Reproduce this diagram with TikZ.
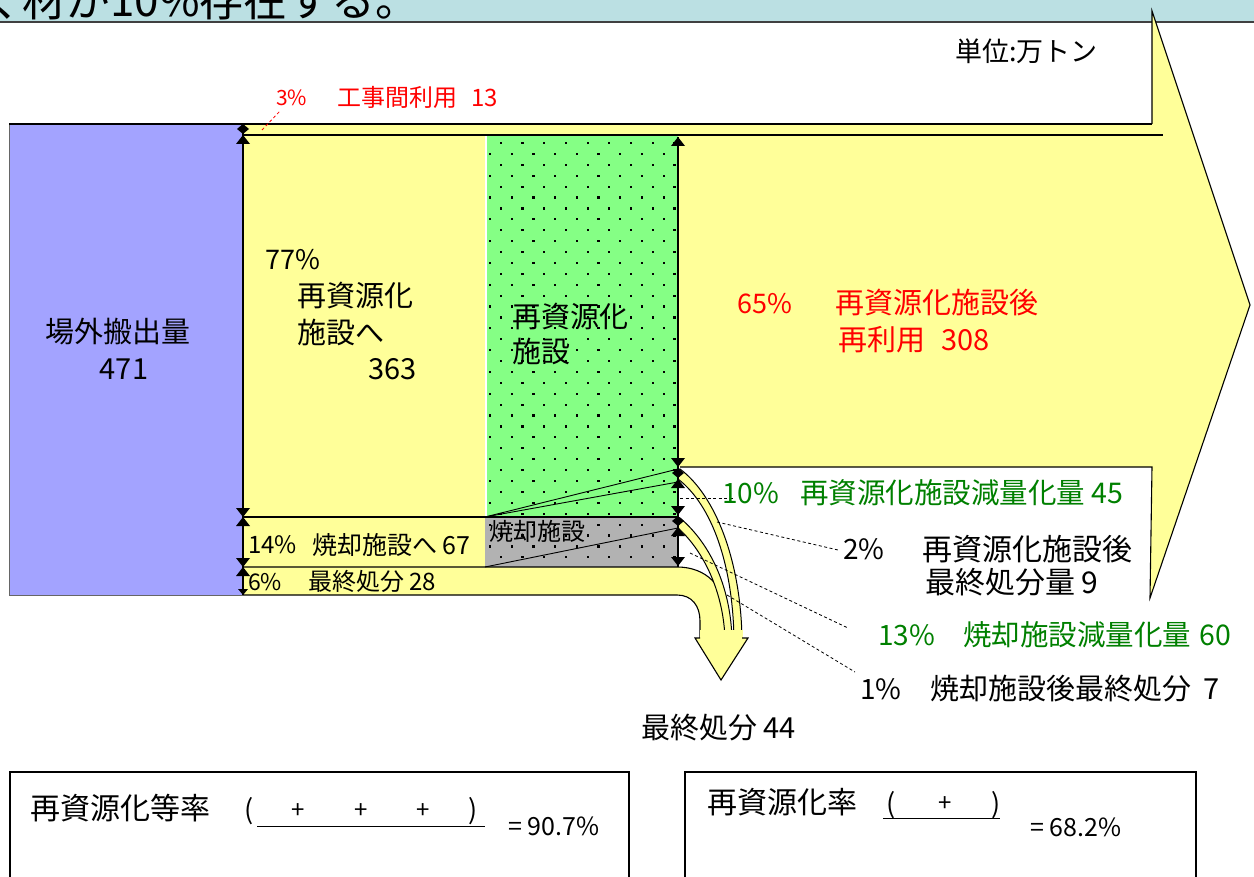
\documentclass[tikz,border=0pt]{standalone}
\usepackage{fontspec}
\setmainfont{Noto Sans CJK JP}
\definecolor{titlebg}{RGB}{187,224,227}
\definecolor{boxblue}{RGB}{163,163,255}
\definecolor{yel}{RGB}{255,255,153}
\definecolor{grn}{RGB}{133,255,133}
\definecolor{gry}{RGB}{178,178,178}
\definecolor{redt}{RGB}{255,0,0}
\definecolor{grnt}{RGB}{0,128,0}
\newcommand\myfs[1]{\fontsize{#1}{#1}\selectfont}
\tikzset{
  lbl/.style={inner sep=0pt, anchor=base west},
  lblc/.style={inner sep=0pt, anchor=base},
  outl/.style={draw=black, line width=1.1pt},
  leader/.style={line width=0.8pt, dash pattern=on 3pt off 2.5pt},
  uptri/.pic={\fill (0,0) -- (-7,9) -- (7,9) -- cycle;},
  dntri/.pic={\fill (0,0) -- (-7,-9) -- (7,-9) -- cycle;},
  dmd/.pic={\fill (0,-5) -- (6,0) -- (0,5) -- (-6,0) -- cycle;}
}
\begin{document}
\begin{tikzpicture}[x=1pt,y=-1pt]
\useasboundingbox (0,0) rectangle (1254,877);
\fill[white] (0,0) rectangle (1254,877);
% title band
\fill[titlebg] (0,0) rectangle (1254,22);
\begin{scope}
\clip (0,0) rectangle (1254,21);
\node[lbl, font=\myfs{44}] (title) at (-22,17) {く材が10\%存在する。};
\end{scope}
\draw[line width=1.6pt, black!75] (0,22) -- (1254,22);

% yellow areas
\fill[yel] (243,124) rectangle (678,595);
\fill[yel] (678,124) -- (1152,124) -- (1152,11) -- (1250,305) -- (1150,598) -- (1152,467) -- (678,467) -- cycle;
% blue box
\fill[boxblue] (9,124) rectangle (243,595);
\draw[black!60, line width=1pt] (9,124) -- (9,595) -- (243,595);
% facilities
\fill[grn] (485,135) rectangle (678,517);
\fill[gry] (485,517) rectangle (678,567);
\draw[white, line width=1.5pt] (486,136) -- (486,516);
\foreach \r in {0,...,38}{
  \foreach \c in {0,...,8}{
    \fill ({499.7-10.8*mod(\r,2)+21.7*\c},{142+10.9*\r}) rectangle +(2.2,2.2);
  }
}

% final disposal band
\fill[yel] (243,567) -- (677,567) .. controls (706,567) and (725,586) .. (725,614) -- (725,640) -- (700,640) -- (700,621) .. controls (700,606) and (692,595) .. (677,595) -- (243,595) -- cycle;
\draw[outl] (243,567) -- (677,567) .. controls (706,567) and (725,586) .. (725,614) -- (725,640);
\draw[outl] (700,640) -- (700,621) .. controls (700,606) and (692,595) .. (677,595) -- (243,595);
% thin curved bands to final disposal
\filldraw[fill=yel, draw=black, line width=1pt] (680,469) .. controls (715,495) and (741,560) .. (742,640) -- (734,640) .. controls (733,565) and (712,505) .. (678,479) -- cycle;
\filldraw[fill=yel, draw=black, line width=1pt] (680,518) .. controls (712,545) and (731,590) .. (732,640) -- (725,640) .. controls (724,595) and (705,552) .. (678,528) -- cycle;
% arrow head of final disposal
\fill[yel] (695,638) -- (748,638) -- (721,680) -- cycle;
\fill[yel] (700,630) rectangle (743,640);
\draw[outl] (700,638) -- (695,638) -- (721,680) -- (748,638) -- (742,638);

% outlines of main flow
\draw[outl] (9,124) -- (1152,124);
\draw[outl] (243,135) -- (1163,135);
\draw[outl] (1152,124) -- (1152,11) -- (1250,305) -- (1150,598) -- (1152,467) -- (680,467);
\draw[outl] (243,124) -- (243,595);
\draw[outl] (243,517) -- (678,517);
\draw[outl] (678,137) -- (678,567);
\draw[line width=0.9pt] (485,517) -- (678,469);
\draw[line width=0.9pt] (485,517) -- (678,482);
\draw[line width=0.9pt] (485,567) -- (678,528);

% dimension markers
\pic at (243,129) {dmd};
\pic at (243,135) {uptri};
\pic at (243,517) {dntri};
\pic at (243,517) {uptri};
\pic at (243,567) {dntri};
\pic at (243,567) {uptri};
\fill (243,595) -- (238,589) -- (248,589) -- cycle;
\pic at (678,137) {uptri};
\pic at (678,467) {dntri};
\pic at (678,473) {dmd};
\pic at (678,479) {uptri};
\pic at (678,515) {dntri};
\pic at (678,521) {dmd};
\pic at (678,527) {uptri};
\pic at (678,566) {dntri};

% leaders
\draw[leader, redt] (262,130) -- (280,111);
\draw[leader] (680,498) -- (733,498);
\draw[leader] (717,522) -- (838,550);
\draw[leader] (690,553) -- (848,628);
\draw[leader] (727,595) -- (855,672);

% texts
\node[lbl, font=\myfs{27}] (unit) at (955,62) {単位:万トン};
\node[lbl, font=\myfs{21}, text=redt] (p3) at (276,106) {3\%};
\node[lbl, font=\myfs{24}, text=redt] (kouji) at (337,107) {工事間利用\hspace{14pt}13};
\node[lblc, font=\myfs{29}] (jogai) at (118,343) {場外搬出量};
\node[lblc, font=\myfs{29}] (n471) at (124,380) {471};
\node[lbl, font=\myfs{27}] (p77) at (265,270) {77\%};
\node[lbl, font=\myfs{29}] (s1) at (297,307) {再資源化};
\node[lbl, font=\myfs{29}] (s2) at (297,344) {施設へ};
\node[lbl, font=\myfs{29}] (n363) at (368,380) {363};
\node[lbl, font=\myfs{29}] (f1) at (512,328) {再資源化};
\node[lbl, font=\myfs{29}] (f2) at (512,363) {施設};
\node[lbl, font=\myfs{27}, text=redt] (p65) at (737,314) {65\%};
\node[lbl, font=\myfs{29}, text=redt] (r1) at (835,314) {再資源化施設後};
\node[lbl, font=\myfs{29}, text=redt] (r2) at (838,351) {再利用\hspace{16pt}308};
\node[lbl, font=\myfs{24}] (p14) at (248,553) {14\%};
\node[lbl, font=\myfs{25}] (sho) at (312,554) {焼却施設へ 67};
\node[lbl, font=\myfs{24}] (shof) at (489,540) {焼却施設};
\node[lbl, font=\myfs{23}] (p6) at (248,590) {6\%};
\node[lbl, font=\myfs{24}] (sai) at (308,590) {最終処分\hspace{5pt}28};
\node[lbl, font=\myfs{28}, text=grnt] (p10) at (722,503) {10\%};
\node[lbl, font=\myfs{28.5}, text=grnt] (gen1) at (800,503) {再資源化施設減量化量\hspace{6pt}45};
\node[lbl, font=\myfs{28}] (p2) at (843,559) {2\%};
\node[lbl, font=\myfs{30}] (d1) at (922,560) {再資源化施設後};
\node[lbl, font=\myfs{30}] (d2) at (925,593) {最終処分量\hspace{6pt}9};
\node[lbl, font=\myfs{28}, text=grnt] (p13) at (878,645) {13\%};
\node[lbl, font=\myfs{28.5}, text=grnt] (gen2) at (963,645) {焼却施設減量化量\hspace{8pt}60};
\node[lbl, font=\myfs{28}] (p1) at (860,699) {1\%};
\node[lbl, font=\myfs{29}] (d3) at (930,699) {焼却施設後最終処分\hspace{12pt}7};
\node[lbl, font=\myfs{29}] (fin) at (641,738) {最終処分\hspace{6pt}44};

% bottom boxes
\draw[line width=2pt] (10,877) -- (10,772) -- (629,772) -- (629,877);
\draw[line width=2pt] (685,877) -- (685,772) -- (1196,772) -- (1196,877);
\node[lbl, font=\myfs{30}] (rate1) at (30,819) {再資源化等率};
\node[lblc, font=\myfs{27}] (lp1) at (249,819) {(};
\node[lblc, font=\myfs{24}] (pl1) at (298,818) {+};
\node[lblc, font=\myfs{24}] (pl2) at (361,818) {+};
\node[lblc, font=\myfs{24}] (pl3) at (423,818) {+};
\node[lblc, font=\myfs{27}] (rp1) at (473,819) {)};
\draw[line width=1pt] (257,826) -- (485,826);
\node[lbl, font=\myfs{25}] (res1) at (508,835) {= 90.7\%};
\node[lbl, font=\myfs{30}] (rate2) at (707,813) {再資源化率};
\node[lblc, font=\myfs{27}] (lp2) at (891,813) {(};
\node[lblc, font=\myfs{24}] (pl4) at (945,811) {+};
\node[lblc, font=\myfs{27}] (rp2) at (996,813) {)};
\draw[line width=1pt] (883,818) -- (1000,818);
\node[lbl, font=\myfs{25}] (res2) at (1030,836) {= 68.2\%};
\end{tikzpicture}
\end{document}
